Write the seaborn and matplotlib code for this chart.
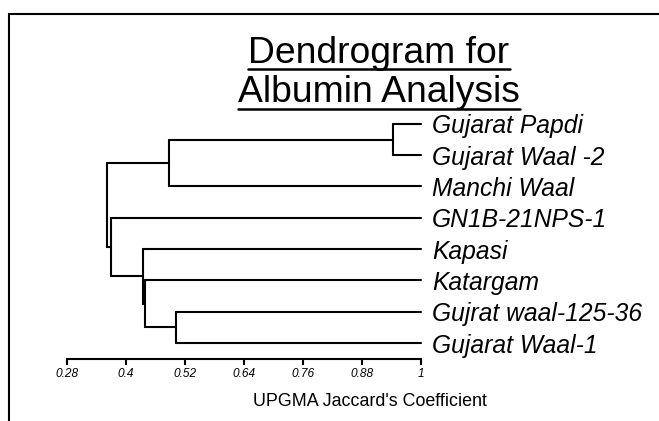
import pandas as pd
import numpy as np
import matplotlib
matplotlib.use("Agg")
import matplotlib.pyplot as plt
from matplotlib.lines import Line2D
from matplotlib.patches import Rectangle
import seaborn as sns

# leaves, top to bottom
leaves = ["Gujarat Papdi", "Gujarat Waal -2", "Manchi Waal", "GN1B-21NPS-1",
          "Kapasi", "Katargam", "Gujrat waal-125-36", "Gujarat Waal-1"]

# UPGMA merges (C0, C1, ... are the clusters made in this order)
merge_a = ["Gujarat Papdi", "Gujrat waal-125-36", "C0", "Katargam", "Kapasi", "GN1B-21NPS-1", "C2"]
merge_b = ["Gujarat Waal -2", "Gujarat Waal-1", "Manchi Waal", "C1", "C3", "C4", "C5"]
similarity = [0.943, 0.502, 0.487, 0.439, 0.435, 0.369, 0.361]

xticks = [0.28, 0.4, 0.52, 0.64, 0.76, 0.88, 1.0]
xtick_labels = ["0.28", "0.4", "0.52", "0.64", "0.76", "0.88", "1"]

# node positions -> segments
pos = {name: (1.0, i) for i, name in enumerate(leaves)}
rows = []
seg = 0
for k, (a, b, s) in enumerate(zip(merge_a, merge_b, similarity)):
    xa, ya = pos[a]
    xb, yb = pos[b]
    for x0, y0 in [(xa, ya), (xb, yb)]:
        rows += [(seg, x0, y0), (seg, s, y0)]
        seg += 1
    rows += [(seg, s, ya), (seg, s, yb)]
    seg += 1
    pos["C%d" % k] = (s, (ya + yb) / 2)
segs = pd.DataFrame(rows, columns=["seg", "x", "y"])

sns.set_style("white")
plt.rcParams["font.family"] = ["Liberation Sans", "DejaVu Sans"]
plt.rcParams["text.color"] = "black"
plt.rcParams["xtick.color"] = "black"
plt.rcParams["ytick.color"] = "black"
plt.rcParams["axes.labelcolor"] = "black"

fig = plt.figure(figsize=(6.59, 4.21), dpi=100)
ax = fig.add_axes([0.1017, 0.1473, 0.5372, 0.5957])

sns.lineplot(data=segs, x="x", y="y", units="seg", estimator=None, sort=False,
             color="black", lw=1.5, ax=ax)
for ln in ax.lines:
    ln.set_clip_on(False)

ax.set_xlim(0.28, 1.0)
ax.set_ylim(7.51, -0.5)
ax.set_xticks(xticks)
ax.set_xticklabels(xtick_labels, fontsize=8.6, style="italic", color="black")
ax.tick_params(axis="x", direction="out", length=4.3, width=1.5, color="black", pad=2, bottom=True)
ax.yaxis.tick_right()
ax.set_yticks(range(len(leaves)))
ax.set_yticklabels(leaves, fontsize=17.7, style="italic", color="black")
ax.tick_params(axis="y", length=0, pad=8)
ax.set_xlabel("")
ax.set_ylabel("")
sns.despine(ax=ax, left=True, top=True, right=True)
ax.spines["bottom"].set_linewidth(1.5)
ax.spines["bottom"].set_color("black")

# frame
fig.patches.append(Rectangle((0.0144, -0.2), 1.5, 0.9667 + 0.2, transform=fig.transFigure,
                             fill=False, edgecolor="black", lw=1.5))

# titles
t1 = fig.text(379 / 659, 1 - 63 / 421, "Dendrogram for", ha="center", va="baseline",
              fontsize=26.8, color="black")
t2 = fig.text(379 / 659, 1 - 102 / 421, "Albumin Analysis", ha="center", va="baseline",
              fontsize=26.8, color="black")
fig.text(370 / 659, 1 - 402 / 421, "UPGMA Jaccard's Coefficient", ha="center", va="center",
         fontsize=12.9, color="black")

fig.canvas.draw()
r = fig.canvas.get_renderer()
W, H = fig.bbox.width, fig.bbox.height
for t, uy in [(t1, 69), (t2, 108.5)]:
    bb = t.get_window_extent(r)
    fig.add_artist(Line2D([bb.x0 / W, bb.x1 / W], [1 - uy / 421, 1 - uy / 421],
                          transform=fig.transFigure, color="black", lw=1.8))

fig.savefig("out.png", dpi=100)
